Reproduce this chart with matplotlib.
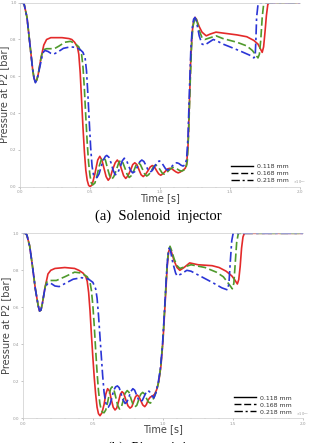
import matplotlib
matplotlib.use("Agg")
import matplotlib.pyplot as plt
from matplotlib.ticker import MultipleLocator

# ---------------- data (time in ms, pressure normalised) ----------------
labels = ["0.118 mm", "0.168 mm", "0.218 mm"]
colors = ["#e42a2a", "#4f9a2c", "#2b35d6"]
styles = ["-", (0, (5, 2)), (0, (6, 2, 1.5, 2))]

# (a) Solenoid injector
a_red_t = [0.00, 0.02, 0.03, 0.05, 0.07, 0.09, 0.10, 0.11, 0.12, 0.13, 0.15, 0.17, 0.19, 0.22, 0.30, 0.35,
           0.37, 0.39, 0.41, 0.42, 0.43, 0.44, 0.45, 0.46, 0.47, 0.48, 0.49, 0.50, 0.515, 0.535, 0.555, 0.57,
           0.585, 0.60, 0.615, 0.63, 0.645, 0.66, 0.68, 0.695, 0.71, 0.725, 0.74, 0.755, 0.77, 0.79, 0.805,
           0.82, 0.835, 0.85, 0.865, 0.88, 0.895, 0.915, 0.93, 0.945, 0.96, 0.975, 0.99, 1.005, 1.02, 1.04,
           1.055, 1.07, 1.085, 1.10, 1.115, 1.13, 1.145, 1.165, 1.18, 1.19, 1.20, 1.21, 1.22, 1.23, 1.24,
           1.25, 1.26, 1.28, 1.30, 1.33, 1.36, 1.40, 1.45, 1.55, 1.62, 1.67, 1.70, 1.72, 1.73, 1.74, 1.75,
           1.76, 1.77, 1.78, 2.00]
a_red_p = [1.00, 1.00, 0.99, 0.92, 0.78, 0.64, 0.59, 0.57, 0.58, 0.61, 0.70, 0.77, 0.80, 0.81, 0.81, 0.805,
           0.80, 0.785, 0.76, 0.72, 0.62, 0.47, 0.32, 0.19, 0.09, 0.035, 0.008, 0.00, 0.01, 0.07, 0.145, 0.165,
           0.145, 0.10, 0.055, 0.035, 0.05, 0.09, 0.13, 0.145, 0.13, 0.095, 0.06, 0.045, 0.058, 0.09, 0.12,
           0.13, 0.12, 0.092, 0.065, 0.055, 0.065, 0.088, 0.107, 0.115, 0.108, 0.088, 0.07, 0.062, 0.07, 0.085,
           0.097, 0.10, 0.097, 0.088, 0.08, 0.075, 0.08, 0.09, 0.10, 0.12, 0.22, 0.45, 0.70, 0.84, 0.90,
           0.92, 0.91, 0.87, 0.84, 0.82, 0.83, 0.84, 0.835, 0.825, 0.815, 0.795, 0.775, 0.745, 0.73, 0.76, 0.84,
           0.93, 0.99, 1.00, 1.00]

a_grn_t = [0.00, 0.02, 0.03, 0.05, 0.07, 0.09, 0.10, 0.11, 0.12, 0.13, 0.15, 0.16, 0.17, 0.19, 0.22, 0.25,
           0.28, 0.32, 0.36, 0.39, 0.42, 0.44, 0.45, 0.46, 0.47, 0.48, 0.49, 0.50, 0.51, 0.52, 0.535, 0.55,
           0.565, 0.58, 0.595, 0.61, 0.625, 0.64, 0.655, 0.67, 0.69, 0.705, 0.72, 0.735, 0.75, 0.765, 0.78,
           0.795, 0.815, 0.83, 0.845, 0.86, 0.875, 0.89, 0.905, 0.92, 0.94, 0.955, 0.97, 0.985, 1.00, 1.015,
           1.03, 1.045, 1.065, 1.08, 1.095, 1.11, 1.125, 1.14, 1.155, 1.17, 1.185, 1.195, 1.205, 1.215, 1.225,
           1.235, 1.25, 1.26, 1.28, 1.30, 1.32, 1.36, 1.40, 1.45, 1.55, 1.62, 1.66, 1.69, 1.70, 1.71, 1.72,
           1.73, 1.74, 1.75, 2.00]
a_grn_p = [1.00, 1.00, 0.99, 0.92, 0.78, 0.64, 0.59, 0.57, 0.58, 0.61, 0.70, 0.73, 0.745, 0.75, 0.75, 0.752,
           0.765, 0.785, 0.79, 0.78, 0.76, 0.72, 0.65, 0.53, 0.38, 0.24, 0.13, 0.06, 0.02, 0.01, 0.02, 0.06,
           0.11, 0.145, 0.16, 0.145, 0.10, 0.06, 0.04, 0.055, 0.095, 0.13, 0.145, 0.13, 0.10, 0.068, 0.05,
           0.06, 0.09, 0.12, 0.13, 0.12, 0.095, 0.07, 0.058, 0.066, 0.09, 0.11, 0.118, 0.11, 0.093, 0.075,
           0.068, 0.074, 0.09, 0.10, 0.105, 0.10, 0.095, 0.088, 0.085, 0.09, 0.10, 0.14, 0.30, 0.55, 0.76,
           0.87, 0.92, 0.91, 0.85, 0.81, 0.80, 0.81, 0.82, 0.805, 0.785, 0.765, 0.74, 0.71, 0.70, 0.72, 0.80,
           0.92, 0.99, 1.00, 1.00]

a_blu_t = [0.00, 0.02, 0.03, 0.05, 0.07, 0.09, 0.10, 0.11, 0.12, 0.13, 0.15, 0.16, 0.17, 0.18, 0.20, 0.22,
           0.24, 0.27, 0.31, 0.36, 0.40, 0.43, 0.45, 0.465, 0.475, 0.485, 0.495, 0.505, 0.515, 0.525, 0.54,
           0.55, 0.565, 0.58, 0.595, 0.61, 0.62, 0.635, 0.65, 0.665, 0.68, 0.695, 0.715, 0.73, 0.745, 0.76,
           0.775, 0.79, 0.805, 0.82, 0.84, 0.855, 0.87, 0.885, 0.90, 0.915, 0.93, 0.945, 0.965, 0.98, 0.995,
           1.01, 1.025, 1.04, 1.055, 1.07, 1.09, 1.105, 1.12, 1.135, 1.15, 1.165, 1.18, 1.19, 1.20, 1.21, 1.22,
           1.23, 1.24, 1.25, 1.26, 1.28, 1.30, 1.32, 1.35, 1.38, 1.40, 1.45, 1.50, 1.58, 1.64, 1.67, 1.68,
           1.685, 1.69, 1.70, 1.71, 2.00]
a_blu_p = [1.00, 1.00, 0.99, 0.92, 0.78, 0.64, 0.59, 0.565, 0.58, 0.61, 0.68, 0.715, 0.735, 0.74, 0.735, 0.725,
           0.72, 0.732, 0.752, 0.76, 0.757, 0.745, 0.73, 0.70, 0.63, 0.50, 0.35, 0.21, 0.11, 0.065, 0.05,
           0.05, 0.07, 0.11, 0.145, 0.165, 0.17, 0.16, 0.13, 0.09, 0.065, 0.07, 0.105, 0.14, 0.155, 0.145,
           0.115, 0.088, 0.075, 0.082, 0.11, 0.135, 0.145, 0.137, 0.115, 0.09, 0.08, 0.088, 0.115, 0.133, 0.14,
           0.133, 0.115, 0.097, 0.09, 0.097, 0.115, 0.127, 0.13, 0.126, 0.117, 0.112, 0.12, 0.15, 0.27, 0.52, 0.74,
           0.86, 0.91, 0.92, 0.90, 0.82, 0.775, 0.77, 0.785, 0.80, 0.795, 0.775, 0.76, 0.735, 0.715, 0.70, 0.71,
           0.80, 0.92, 0.99, 1.00, 1.00]

# (b) Piezo injector
b_red_t = [0.00, 0.02, 0.03, 0.05, 0.07, 0.09, 0.11, 0.12, 0.13, 0.14, 0.16, 0.18, 0.20, 0.23, 0.30, 0.37,
           0.40, 0.43, 0.45, 0.46, 0.47, 0.48, 0.49, 0.50, 0.51, 0.52, 0.53, 0.54, 0.551, 0.565, 0.58, 0.592,
           0.605, 0.618, 0.632, 0.645, 0.658, 0.67, 0.683, 0.696, 0.708, 0.72, 0.735, 0.75, 0.765, 0.778, 0.79,
           0.803, 0.815, 0.828, 0.842, 0.856, 0.87, 0.882, 0.895, 0.91, 0.925, 0.94, 0.955, 0.97, 0.985, 1.00,
           1.015, 1.03, 1.04, 1.05, 1.06, 1.08, 1.10, 1.12, 1.15, 1.19, 1.25, 1.35, 1.40, 1.45, 1.49, 1.51,
           1.53, 1.54, 1.55, 1.56, 1.57, 1.58, 2.00]
b_red_p = [1.00, 1.00, 0.99, 0.93, 0.82, 0.70, 0.61, 0.58, 0.585, 0.62, 0.71, 0.78, 0.80, 0.81, 0.815, 0.81,
           0.80, 0.785, 0.765, 0.74, 0.68, 0.58, 0.45, 0.33, 0.22, 0.13, 0.06, 0.025, 0.014, 0.03, 0.075, 0.13,
           0.16, 0.148, 0.10, 0.06, 0.045, 0.055, 0.09, 0.13, 0.144, 0.135, 0.10, 0.068, 0.055, 0.063, 0.088,
           0.115, 0.126, 0.118, 0.095, 0.072, 0.063, 0.075, 0.10, 0.115, 0.12, 0.13, 0.155, 0.20, 0.28, 0.42,
           0.62, 0.82, 0.90, 0.92, 0.90, 0.85, 0.815, 0.80, 0.815, 0.84, 0.83, 0.825, 0.815, 0.795, 0.77, 0.75,
           0.726, 0.75, 0.82, 0.92, 0.98, 1.00, 1.00]

b_grn_t = [0.00, 0.02, 0.03, 0.05, 0.07, 0.09, 0.11, 0.12, 0.13, 0.14, 0.16, 0.17, 0.19, 0.24, 0.30, 0.37,
           0.42, 0.46, 0.48, 0.49, 0.50, 0.51, 0.52, 0.53, 0.54, 0.55, 0.56, 0.57, 0.58, 0.592, 0.605, 0.617,
           0.627, 0.637, 0.65, 0.663, 0.677, 0.69, 0.703, 0.716, 0.73, 0.745, 0.758, 0.772, 0.786, 0.80, 0.813,
           0.827, 0.841, 0.855, 0.868, 0.882, 0.896, 0.91, 0.925, 0.94, 0.955, 0.97, 0.985, 1.00, 1.015, 1.03,
           1.04, 1.05, 1.06, 1.08, 1.10, 1.12, 1.16, 1.20, 1.30, 1.38, 1.43, 1.47, 1.494, 1.505, 1.515, 1.525,
           1.537, 2.00]
b_grn_p = [1.00, 1.00, 0.99, 0.93, 0.82, 0.70, 0.61, 0.58, 0.585, 0.62, 0.71, 0.735, 0.745, 0.745, 0.765, 0.79,
           0.785, 0.765, 0.735, 0.69, 0.61, 0.50, 0.37, 0.25, 0.15, 0.08, 0.045, 0.032, 0.03, 0.045, 0.085, 0.13,
           0.16, 0.17, 0.155, 0.115, 0.07, 0.05, 0.06, 0.095, 0.135, 0.15, 0.14, 0.105, 0.075, 0.062, 0.07,
           0.10, 0.13, 0.14, 0.132, 0.108, 0.088, 0.082, 0.095, 0.12, 0.15, 0.20, 0.29, 0.43, 0.64, 0.84,
           0.91, 0.93, 0.91, 0.86, 0.825, 0.81, 0.82, 0.83, 0.815, 0.79, 0.765, 0.725, 0.70, 0.73, 0.84, 0.95,
           1.00, 1.00]

b_blu_t = [0.00, 0.02, 0.03, 0.05, 0.07, 0.09, 0.11, 0.12, 0.13, 0.14, 0.16, 0.18, 0.20, 0.23, 0.26, 0.30,
           0.36, 0.42, 0.47, 0.50, 0.52, 0.53, 0.54, 0.55, 0.56, 0.57, 0.58, 0.59, 0.60, 0.61, 0.622, 0.635,
           0.648, 0.662, 0.675, 0.688, 0.70, 0.715, 0.73, 0.743, 0.757, 0.771, 0.785, 0.798, 0.812, 0.826, 0.84,
           0.853, 0.867, 0.881, 0.895, 0.908, 0.922, 0.935, 0.95, 0.965, 0.98, 0.995, 1.01, 1.025, 1.035, 1.045,
           1.055, 1.07, 1.09, 1.10, 1.13, 1.17, 1.20, 1.25, 1.35, 1.42, 1.46, 1.47, 1.48, 1.49, 1.50, 2.00]
b_blu_p = [1.00, 1.00, 0.99, 0.93, 0.82, 0.70, 0.61, 0.58, 0.585, 0.62, 0.71, 0.73, 0.73, 0.715, 0.712, 0.728,
           0.752, 0.76, 0.752, 0.735, 0.70, 0.65, 0.56, 0.45, 0.34, 0.23, 0.14, 0.09, 0.065, 0.06, 0.075, 0.11,
           0.15, 0.17, 0.175, 0.165, 0.135, 0.10, 0.08, 0.088, 0.115, 0.145, 0.16, 0.152, 0.125, 0.10, 0.09,
           0.097, 0.12, 0.142, 0.15, 0.14, 0.12, 0.11, 0.14, 0.19, 0.26, 0.38, 0.57, 0.78, 0.88, 0.92,
           0.90, 0.84, 0.785, 0.77, 0.78, 0.80, 0.795, 0.775, 0.735, 0.705, 0.694, 0.73, 0.85, 0.96, 1.00, 1.00]

panels = [
    ("(a)  Solenoid  injector",
     [(a_red_t, a_red_p), (a_grn_t, a_grn_p), (a_blu_t, a_blu_p)],
     [20 / 311, 1 - 186.7 / 443, 280 / 311, 184 / 443]),
    ("(b)  Piezo  injector",
     [(b_red_t, b_red_p), (b_grn_t, b_grn_p), (b_blu_t, b_blu_p)],
     [22.7 / 311, 1 - 418.3 / 443, 280.6 / 311, 185 / 443]),
]

x_ticks = [0.0, 0.5, 1.0, 1.5, 2.0]
y_ticks = [0.0, 0.2, 0.4, 0.6, 0.8, 1.0]

fig = plt.figure(figsize=(3.11, 4.43), dpi=100)
for caption, series, rect in panels:
    ax = fig.add_axes(rect)
    for (t, p), c, ls, lab in zip(series, colors, styles, labels):
        ax.plot(t, p, color=c, ls=ls, lw=1.2, label=lab)
    ax.set_xlim(0, 2.0)
    ax.set_ylim(0, 1.0)
    ax.set_xticks(x_ticks)
    ax.set_yticks(y_ticks)
    ax.set_xticklabels([f"{v:.1f}" for v in x_ticks])
    ax.set_yticklabels([f"{v:.1f}" for v in y_ticks])
    ax.xaxis.set_minor_locator(MultipleLocator(0.1))
    ax.tick_params(labelsize=3, colors="#999999", length=1.5, width=0.4, pad=1)
    ax.tick_params(which="minor", length=1.0, width=0.3, colors="#999999")
    for s in ["left", "bottom", "top"]:
        ax.spines[s].set_color("#cccccc")
        ax.spines[s].set_linewidth(0.5)
    ax.spines["right"].set_visible(False)
    ax.set_ylabel("Pressure at P2 [bar]", fontsize=7, color="#444444", labelpad=1)
    ax.set_xlabel("Time [s]", fontsize=7, color="#444444", labelpad=-1)
    ax.text(0.975, 0.003, "×10$^{-3}$", transform=ax.transAxes, fontsize=2.5,
            color="#999999", ha="left", va="bottom")
    leg = ax.legend(loc="lower right", bbox_to_anchor=(0.972, 0.0), frameon=False,
                    fontsize=4.5, handlelength=3.5, handletextpad=0.6,
                    labelspacing=0.25, borderaxespad=0.2)
    for h in leg.get_lines():
        h.set_color("black")
        h.set_linewidth(1.0)
    for txt in leg.get_texts():
        txt.set_color("#333333")
    fig.text(rect[0] + rect[2] / 2 - 0.005, rect[1] - 0.052, caption, fontsize=10.5,
             family="Liberation Serif", ha="center", va="top")

fig.savefig("out.png", dpi=100)
